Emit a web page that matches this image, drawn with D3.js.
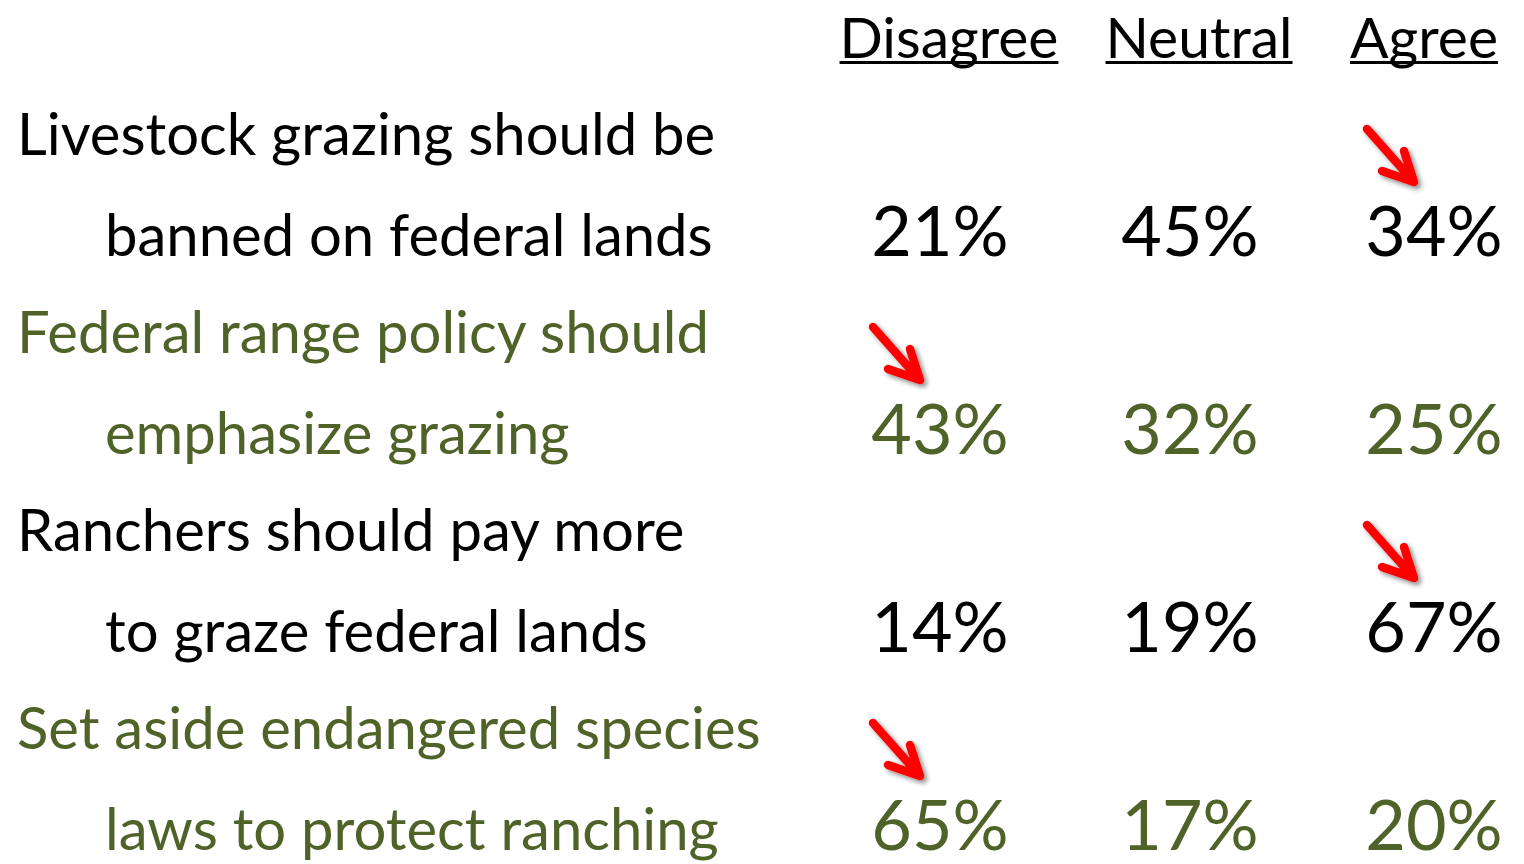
<!DOCTYPE html>
<html><head><meta charset="utf-8">
<script src="https://cdn.jsdelivr.net/npm/d3@7"></script>
<style>html,body{margin:0;padding:0;background:#fff;overflow:hidden}</style>
</head><body>
<svg id="chart" width="1524" height="864"></svg>
<script>
// ---- data ----
const columns = ["Disagree", "Neutral", "Agree"];
const statementLine1 = ["Livestock grazing should be", "Federal range policy should", "Ranchers should pay more", "Set aside endangered species"];
const statementLine2 = ["banned on federal lands", "emphasize grazing", "to graze federal lands", "laws to protect ranching"];
const disagreeValues = [21, 43, 14, 65];
const neutralValues = [45, 32, 19, 17];
const agreeValues = [34, 25, 67, 20];
const highlightColumn = ["Agree", "Disagree", "Agree", "Disagree"];

// ---- layout ----
const svg = d3.select("#chart");
const FONT = "Lato, 'Open Sans', sans-serif";
const colors = ["#000000", "#4F6228"];
const rows = d3.range(statementLine1.length);
const valuesByCol = {Disagree: disagreeValues, Neutral: neutralValues, Agree: agreeValues};

const x = d3.scaleOrdinal().domain(columns).range([940, 1190, 1434]);
const xHead = d3.scaleOrdinal().domain(columns).range([949, 1199, 1424]);
const y = d3.scaleLinear().domain([0, statementLine1.length - 1]).range([155, 749]);
const lineGap = 101;

// shadow filter
const defs = svg.append("defs");
const f = defs.append("filter").attr("id", "shadow").attr("x", "-50%").attr("y", "-50%").attr("width", "200%").attr("height", "200%");
f.append("feGaussianBlur").attr("in", "SourceAlpha").attr("stdDeviation", 2.5).attr("result", "blur");
f.append("feOffset").attr("in", "blur").attr("dx", 3).attr("dy", 3).attr("result", "off");
f.append("feComponentTransfer").attr("in", "off").attr("result", "offA")
  .append("feFuncA").attr("type", "linear").attr("slope", 0.45);
const m = f.append("feMerge");
m.append("feMergeNode").attr("in", "offA");
m.append("feMergeNode").attr("in", "SourceGraphic");

// headers
const heads = svg.append("g").selectAll("g").data(columns).join("g");
heads.append("text")
  .attr("x", d => xHead(d)).attr("y", 58)
  .attr("text-anchor", "middle")
  .attr("font-family", FONT).attr("font-size", 57)
  .attr("fill", "#000")
  .text(d => d)
  .each(function(d) {
    const w = this.getComputedTextLength();
    d3.select(this.parentNode).append("rect")
      .attr("x", xHead(d) - w / 2).attr("y", 61)
      .attr("width", w).attr("height", 3).attr("fill", "#000");
  });

// statements
const rowG = svg.append("g").selectAll("g").data(rows).join("g")
  .attr("fill", i => colors[i % 2]);
rowG.append("text")
  .attr("x", 17).attr("y", i => y(i))
  .attr("font-family", FONT).attr("font-size", 58)
  .text(i => statementLine1[i]);
rowG.append("text")
  .attr("x", 105).attr("y", i => y(i) + lineGap)
  .attr("font-family", FONT).attr("font-size", 58)
  .text(i => statementLine2[i]);

// values
rowG.selectAll("text.val").data(i => columns.map(c => ({i, c, v: valuesByCol[c][i]})))
  .join("text").attr("class", "val")
  .attr("x", d => x(d.c)).attr("y", d => y(d.i) + lineGap)
  .attr("text-anchor", "middle")
  .attr("font-family", FONT).attr("font-size", 70)
  .text(d => d.v + "%");

// arrows
const arrowG = svg.append("g").attr("filter", "url(#shadow)");
rows.forEach(i => {
  const tx = x(highlightColumn[i]) - 20;
  const ty = y(i) + lineGap - 74;
  const p = d3.path();
  p.moveTo(tx - 47, ty - 53); p.lineTo(tx, ty);
  p.moveTo(tx - 10, ty - 31); p.lineTo(tx, ty); p.lineTo(tx - 32, ty - 11);
  arrowG.append("path").attr("d", p.toString())
    .attr("fill", "none").attr("stroke", "#FF0000")
    .attr("stroke-width", 8.5).attr("stroke-linecap", "round").attr("stroke-linejoin", "round");
});
</script>
</body></html>
